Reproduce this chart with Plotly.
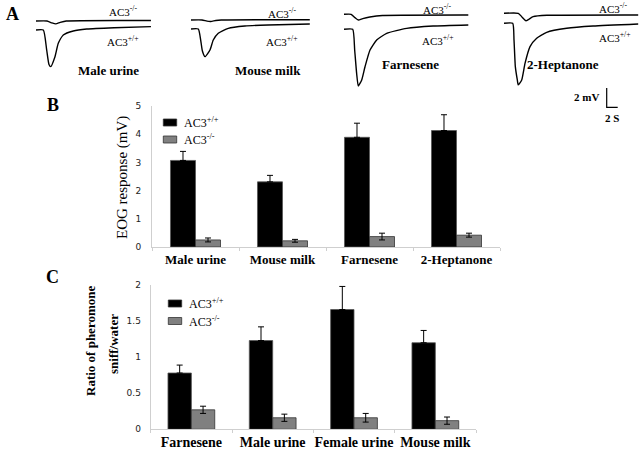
import plotly.graph_objects as go

# ---------------- Panel A: EOG traces (time in s, response in mV) ----------------
t_mu_wt = [0, 1.33, 1.94, 2.36, 2.67, 3.45, 4.05, 4.96, 6.78, 9.22, 14.2, 20.9]
v_mu_wt = [0, 0, -2.08, -3.6, -3.82, -2.78, -1.39, -0.52, -0.10, 0.10, 0.24, 0.35]
t_mu_ko = [0, 2.0, 2.9, 3.6, 4.4, 5.5, 20.9]
v_mu_ko = [0, 0, -0.2, -0.3, -0.15, 0, 0.05]

t_mm_wt = [0, 1.33, 1.76, 2.06, 2.55, 3.45, 4.05, 4.96, 6.78, 9.8, 14.0, 21.6]
v_mm_wt = [0, 0, -1.15, -2.26, -2.88, -2.19, -1.15, -0.45, 0.07, 0.31, 0.42, 0.52]
t_mm_ko = [0, 2.0, 2.9, 3.6, 4.5, 5.5, 21.6]
v_mm_ko = [0, 0, -0.12, -0.15, -0.05, 0, 0.03]

t_fa_wt = [0, 1.58, 1.94, 2.3, 2.6, 3.22, 3.82, 4.73, 5.94, 7.76, 11.4, 16.2, 22.6]
v_fa_wt = [0, 0, -2.16, -4.6, -5.9, -5.28, -3.9, -2.16, -1.11, -0.42, 0.10, 0.34, 0.45]
t_fa_ko = [0, 1.3, 2.0, 2.6, 3.4, 4.7, 7.0, 22.6]
v_fa_ko = [0, 0, -0.35, -0.6, -0.45, -0.28, -0.12, -0.07]

t_hp_wt = [0, 1.58, 1.82, 2.06, 2.42, 2.6, 3.22, 3.82, 4.73, 5.94, 7.76, 11.4, 16.2, 24.4]
v_hp_wt = [0, 0, -1.74, -4.52, -5.9, -6.42, -5.9, -4.17, -2.43, -1.56, -0.94, -0.52, -0.28, -0.07]
t_hp_ko = [0, 2.6, 3.3, 4.0, 5.3, 7.8, 24.4]
v_hp_ko = [0, 0, -0.4, -0.77, -0.35, -0.21, -0.17]

trace_names = ["Male urine", "Mouse milk", "Farnesene", "2-Heptanone"]

# ---------------- Panel B: EOG response (mV) ----------------
cats_B = ["Male urine", "Mouse milk", "Farnesene", "2-Heptanone"]
wt_B = [3.07, 2.31, 3.89, 4.13]
wt_B_err = [0.32, 0.23, 0.50, 0.56]
ko_B = [0.25, 0.22, 0.37, 0.42]
ko_B_err = [0.07, 0.05, 0.12, 0.07]

# ---------------- Panel C: ratio of pheromone sniff / water ----------------
cats_C = ["Farnesene", "Male urine", "Female urine", "Mouse milk"]
wt_C = [0.78, 1.23, 1.66, 1.20]
wt_C_err = [0.11, 0.19, 0.32, 0.17]
ko_C = [0.27, 0.16, 0.16, 0.12]
ko_C_err = [0.05, 0.05, 0.06, 0.05]

series_names = ["AC3<sup>+/+</sup>", "AC3<sup>-/-</sup>"]
series_colors = ["#000000", "#808080"]

W, H = 640, 449
SERIF = "Liberation Serif"
SANS = "DejaVu Sans"
PX_PER_S, PX_PER_MV, REF_PY = 5.5, 9.6, 30.0


def px(x):
    return x / W


def py(y):
    return 1 - y / H


def mv_at(y):
    return -(y - REF_PY) / PX_PER_MV


fig = go.Figure()

# layout offsets of the four trace pairs (pixel start x, baseline y of +/+ and -/-)
starts = [36, 191, 344, 504]
wt_base = [30, 29, 29.3, 23.3]
ko_base = [21, 20, 14.3, 13.3]
series = [
    (t_mu_wt, v_mu_wt, t_mu_ko, v_mu_ko),
    (t_mm_wt, v_mm_wt, t_mm_ko, v_mm_ko),
    (t_fa_wt, v_fa_wt, t_fa_ko, v_fa_ko),
    (t_hp_wt, v_hp_wt, t_hp_ko, v_hp_ko),
]
for i, (tw, vw, tk, vk) in enumerate(series):
    x0 = starts[i] / PX_PER_S
    fig.add_trace(go.Scatter(x=[t + x0 for t in tk], y=[v + mv_at(ko_base[i]) for v in vk],
                             mode="lines", line=dict(color="black", width=1.4, shape="spline", smoothing=0.5),
                             xaxis="x", yaxis="y", showlegend=False, hoverinfo="skip"))
    fig.add_trace(go.Scatter(x=[t + x0 for t in tw], y=[v + mv_at(wt_base[i]) for v in vw],
                             mode="lines", line=dict(color="black", width=1.4, shape="spline", smoothing=0.5),
                             xaxis="x", yaxis="y", showlegend=False, hoverinfo="skip"))

# scale bar: 2 mV vertical, 2 s horizontal
sb_x = 606.7 / PX_PER_S
sb_y = mv_at(107.3)
fig.add_trace(go.Scatter(x=[sb_x, sb_x, sb_x + 2], y=[sb_y + 2, sb_y, sb_y], mode="lines",
                         line=dict(color="black", width=1.2), xaxis="x", yaxis="y",
                         showlegend=False, hoverinfo="skip"))

# ---------------- Panel B bars ----------------
fig.add_trace(go.Bar(x=cats_B, y=wt_B, name=series_names[0],
                     marker=dict(color=series_colors[0], line=dict(color="#555", width=0.8)),
                     error_y=dict(type="data", symmetric=False, array=wt_B_err, arrayminus=[0] * 4,
                                  color="black", thickness=1, width=3),
                     xaxis="x2", yaxis="y2", showlegend=False))
fig.add_trace(go.Bar(x=cats_B, y=ko_B, name=series_names[1],
                     marker=dict(color=series_colors[1], line=dict(color="#333", width=0.8)),
                     error_y=dict(type="data", array=ko_B_err, color="black", thickness=1, width=3),
                     xaxis="x2", yaxis="y2", showlegend=False))

# ---------------- Panel C bars ----------------
fig.add_trace(go.Bar(x=cats_C, y=wt_C, name=series_names[0],
                     marker=dict(color=series_colors[0], line=dict(color="#555", width=0.8)),
                     error_y=dict(type="data", symmetric=False, array=wt_C_err, arrayminus=[0] * 4,
                                  color="black", thickness=1, width=3),
                     xaxis="x3", yaxis="y3", showlegend=False))
fig.add_trace(go.Bar(x=cats_C, y=ko_C, name=series_names[1],
                     marker=dict(color=series_colors[1], line=dict(color="#333", width=0.8)),
                     error_y=dict(type="data", array=ko_C_err, color="black", thickness=1, width=3),
                     xaxis="x3", yaxis="y3", showlegend=False))

axis_line = "#cfcfcf"
hidden = dict(visible=False, showgrid=False, zeroline=False, automargin=False)

fig.update_layout(
    width=W, height=H, margin=dict(l=0, r=0, t=0, b=0, autoexpand=False),
    paper_bgcolor="white", plot_bgcolor="rgba(0,0,0,0)",
    barmode="group", bargroupgap=0, bargap=0.425, showlegend=False,
    xaxis=dict(domain=[0, 1], range=[0, W / PX_PER_S], anchor="y", **hidden),
    yaxis=dict(domain=[py(125), 1], range=[mv_at(125), mv_at(0)], anchor="x", **hidden),
    xaxis2=dict(domain=[px(152), px(500)], anchor="y2", showline=True, linecolor=axis_line, linewidth=1,
                ticks="outside", tickson="boundaries", ticklen=3, tickcolor=axis_line, tickangle=0,
                automargin=False,
                tickfont=dict(family=SERIF, size=13, color="black", weight="bold"), showgrid=False, zeroline=False),
    yaxis2=dict(domain=[py(247), py(106)], range=[0, 5], anchor="x2", showline=True, linecolor=axis_line, linewidth=1,
                tickvals=[0, 1, 2, 3, 4, 5], ticks="outside", ticklen=8, tickcolor="rgba(0,0,0,0)",
                automargin=False,
                tickfont=dict(family=SANS, size=9, color="#222"), showgrid=False, zeroline=False),
    xaxis3=dict(domain=[px(150.7), px(476)], anchor="y3", showline=True, linecolor=axis_line, linewidth=1,
                ticks="outside", tickson="boundaries", ticklen=3, tickcolor=axis_line, tickangle=0,
                automargin=False,
                tickfont=dict(family=SERIF, size=14, color="black", weight="bold"), showgrid=False, zeroline=False),
    yaxis3=dict(domain=[py(429.3), py(285)], range=[0, 2], anchor="x3", showline=True, linecolor=axis_line, linewidth=1,
                tickvals=[0, 0.5, 1, 1.5, 2], ticktext=["0", "0.5", "1", "1.5", "2"],
                ticks="outside", ticklen=7, tickcolor="rgba(0,0,0,0)", automargin=False,
                tickfont=dict(family=SANS, size=9, color="#222"), showgrid=False, zeroline=False),
)

ann = []
shapes = []


def text(x, y, s, size=12, bold=False, xanchor="center", angle=0, family=SERIF):
    ann.append(dict(x=px(x), y=py(y), xref="paper", yref="paper", text=s, showarrow=False,
                    xanchor=xanchor, yanchor="middle", textangle=angle,
                    font=dict(family=family, size=size, color="black", weight="bold" if bold else "normal")))


# panel letters
text(12, 14, "A", 18, True)
text(53, 105, "B", 18, True)
text(52, 277, "C", 18, True)

# trace labels
ko_lab = [(123, 11), (282, 13), (437, 9), (613, 8)]
wt_lab = [(123, 41), (282, 41), (438, 40), (615, 37)]
name_lab = [(108, 71), (268, 71), (410, 64), (563, 64)]
for i in range(4):
    text(*ko_lab[i], series_names[1], 11)
    text(*wt_lab[i], series_names[0], 11)
    text(*name_lab[i], trace_names[i], 13, True)

# scale bar labels
text(601, 97, "2 mV", 11, True, xanchor="right")
text(612, 118, "2 S", 11, True)

# axis titles
text(122, 178, "EOG response (mV)", 15, False, angle=-90)
text(90, 341, "Ratio of pheromone", 13, True, angle=-90)
text(113, 344, "sniff/water", 13, True, angle=-90)

# legends (key swatch + label)
legend_pos = [
    [(163.3, 176.7, 119, 126), (163.3, 176.7, 136, 143)],   # panel B
    [(168.3, 181.7, 300, 307), (168.3, 181.7, 317.5, 324.5)],  # panel C
]
for keys in legend_pos:
    for j, (x0, x1, y0, y1) in enumerate(keys):
        shapes.append(dict(type="rect", xref="paper", yref="paper", x0=px(x0), x1=px(x1), y0=py(y1), y1=py(y0),
                           fillcolor=series_colors[j], line=dict(color="#333", width=0.8)))
        text(x1 + 5, (y0 + y1) / 2, series_names[j], 12, xanchor="left")

fig.update_layout(annotations=ann, shapes=shapes)
fig.write_html("out.html", config={"displayModeBar": False, "staticPlot": True},
               post_script="document.body.style.margin='0';document.body.style.overflow='hidden';")
